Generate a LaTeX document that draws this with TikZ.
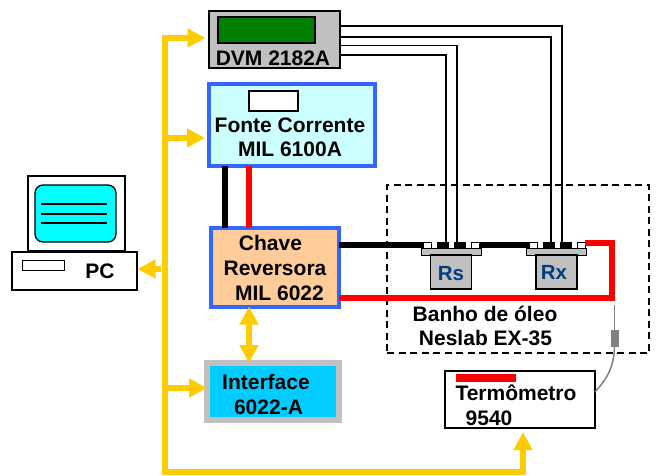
\documentclass[tikz,border=0pt]{standalone}
\usepackage{fontspec}
\setmainfont{Liberation Sans}
\usetikzlibrary{arrows.meta,calc}
\definecolor{busY}{HTML}{FFCC00}
\definecolor{blueB}{HTML}{3366FF}
\definecolor{greyB}{HTML}{C0C0C0}
\definecolor{navyT}{HTML}{003F7F}
\definecolor{lcyan}{HTML}{CCFFFF}
\definecolor{peach}{HTML}{FFCC99}
\definecolor{skyb}{HTML}{00CCFF}
\definecolor{acyan}{HTML}{00FFFF}
\definecolor{dgreen}{HTML}{008000}
\tikzset{
 x=1pt,y=-1pt,
 rectb/.style={outer sep=0pt,inner sep=0pt,rectangle},
 lab/.style={font=\fontsize{21}{24}\selectfont\bfseries,inner sep=0pt,outer sep=0pt,text=black},
 bluebox/.style={rectb,draw=blueB,line width=4pt},
 thin box/.style={rectb,draw=black,line width=1.3pt},
 bus/.style={draw=busY,line width=5.8pt},
 busarrow/.style={bus,-{Triangle[width=18pt,length=18pt]}},
 busdouble/.style={bus,{Triangle[width=18pt,length=18pt]}-{Triangle[width=18pt,length=18pt]}},
 wire/.style={draw=black,line width=1.4pt},
 hwblack/.style={draw=black,line width=6pt},
 hwred/.style={draw=red,line width=6pt},
 flange/.style={rectb,draw=black,line width=1pt,fill=greyB,minimum width=60pt,minimum height=6.5pt},
 rbody/.style={thin box,fill=greyB,minimum width=41pt,minimum height=34pt},
 termw/.style={rectb,draw=black,line width=1pt,fill=white,minimum width=8pt,minimum height=6pt},
 termk/.style={rectb,fill=black,minimum width=12pt,minimum height=6.5pt},
}
\begin{document}
\begin{tikzpicture}
\useasboundingbox (0,0) rectangle (658,475);
% dashed bath
\node[rectb,draw=black,line width=1.2pt,dash pattern=on 7pt off 4.5pt,minimum width=262pt,minimum height=168pt] (bath) at (518,269) {};
% DVM
\node[thin box,fill=greyB,minimum width=131pt,minimum height=57pt] (dvm) at (274.5,39.5) {};
\node[rectb,draw=black,line width=1.3pt,fill=dgreen,minimum width=97pt,minimum height=26pt] (dvmscreen) at (266.5,30) {};
\node[lab] (dvmt) at (273,58) {DVM 2182A};
% Fonte
\node[bluebox,fill=lcyan,minimum width=166pt,minimum height=82pt] (fonte) at (292,125) {};
\node[thin box,fill=white,minimum width=49pt,minimum height=20pt] (fontescreen) at (273.5,101) {};
\node[lab,align=center] (fontet) at (290,137) {Fonte Corrente\\MIL 6100A};
% Chave
\node[bluebox,fill=peach,minimum width=128pt,minimum height=79pt] (chave) at (274.5,267) {};
\node[lab] (ch1) at (270.5,243) {Chave};
\node[lab] (ch2) at (275,268) {Reversora};
\node[lab] (ch3) at (279.5,293) {MIL 6022};
% Interface
\node[rectb,draw=greyB,line width=6pt,fill=skyb,minimum width=132pt,minimum height=57pt] (iface) at (273,391.5) {};
\node[lab] (if1) at (266,382) {Interface};
\node[lab] (if2) at (268.5,407) {6022-A};
% PC
\node[thin box,fill=white,minimum width=97pt,minimum height=75pt] (mon) at (76.5,213.5) {};
\node[rectb,draw=black,line width=1.3pt,fill=acyan,rounded corners=8pt,minimum width=81pt,minimum height=57pt] (scr) at (75.5,213.5) {};
\foreach \n/\yy in {a/204,b/214,c/223}{
 \coordinate (l\n1) at (41,\yy); \coordinate (l\n2) at (107,\yy);
 \draw[black,line width=1.3pt] (l\n1) -- (l\n2);
}
\node[thin box,fill=white,minimum width=125pt,minimum height=38pt] (base) at (74.5,271) {};
\node[rectb,draw=black,line width=1pt,fill=white,minimum width=42pt,minimum height=10pt] (slot) at (43,265) {};
\node[lab] (pct) at (100,271) {PC};
% Thermometer
\node[thin box,fill=white,minimum width=150pt,minimum height=57pt] (term) at (520,399.5) {};
\node[rectb,fill=red,minimum width=60pt,minimum height=8pt] (termred) at (486,378) {};
\node[lab] (t1) at (516,393) {Termômetro};
\node[lab] (t2) at (489,418) {9540};
% Bath label
\node[lab] (b1) at (485,314) {Banho de óleo};
\node[lab] (b2) at (485.5,338) {Neslab EX-35};
% Probe
\coordinate (ptop) at (614.5,305);
\node[rectb,fill=gray,minimum width=8pt,minimum height=17pt] (probe) at (614.5,338) {};
\draw[gray,line width=1.5pt] (ptop) -- (probe.north);
\draw[gray,line width=1.5pt] (probe.south) .. controls (614,368) and (606,380) .. (term.east |- 0,392);
% Resistors
\foreach \r/\cx/\tx/\ty in {Rs/451/451/274,Rx/556.5/554/272}{
 \node[flange] (\r f) at (\cx,252) {};
 \node[rbody] (\r b) at (\cx,272) {};
 \node[termw] (\r w1) at ($(\cx,245)+(-23.5,0)$) {};
 \node[termk] (\r k1) at ($(\cx,245)+(-8,0)$) {};
 \node[termk] (\r k2) at ($(\cx,245)+(9,0)$) {};
 \node[termw] (\r w2) at ($(\cx,245)+(24.5,0)$) {};
 \node[font=\fontsize{20.5}{24}\selectfont\bfseries,text=navyT,inner sep=0pt] (\r t) at (\tx,\ty) {\r};
}
% Heavy wires
\draw[hwblack] (fonte.south -| 225,0) -- (chave.north -| 225,0);
\draw[hwred] (fonte.south -| 249,0) -- (chave.north -| 249,0);
\draw[hwblack] (chave.east |- Rsw1) -- (Rsw1.west);
\draw[hwblack] (Rsw2.east) -- (Rxw1.west);
\draw[hwred,line join=miter] (Rxw2.east |- 0,243) -- (612,243) -- (612,298) -- (chave.east |- 0,298);
% DVM wires
\draw[wire] (dvm.east |- 0,26) -| (Rxk2.north -| 562,0);
\draw[wire] (dvm.east |- 0,37) -| (Rxk1.north -| 551,0);
\draw[wire] (dvm.east |- 0,45.5) -| (Rsk2.north -| 457,0);
\draw[wire] (dvm.east |- 0,55) -| (Rsk1.north -| 446,0);
% bus
\coordinate (busTop) at (165,38);
\coordinate (busBot) at (165,472);
\coordinate (busPC) at (161,269);
\draw[bus] (busBot) -- (165,35.1);
\draw[busarrow] (163,38) -- ($(dvm.west |- busTop)+(-3.5,0)$);
\draw[busarrow] (163,138) -- ($(fonte.west |- 0,138)+(-4,0)$);
\draw[busarrow] (163,388) -- (iface.west |- 0,388);
\draw[busarrow] (busPC) -- ($(base.east |- busPC)+(0.5,0)$);
\draw[busdouble] (chave.south -| 249,0) -- (iface.north -| 249,0);
\draw[busarrow] (162.1,472) -- (523,472) -- ($(term.south -| 523,0)+(0,4)$);
\end{tikzpicture}
\end{document}
